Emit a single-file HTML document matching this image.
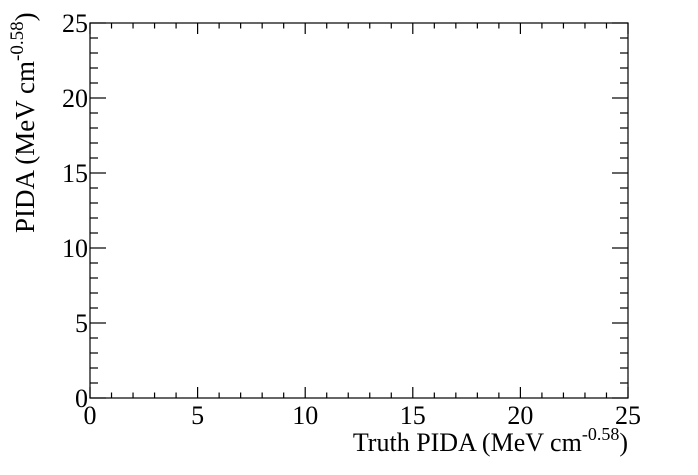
<!DOCTYPE html>
<html><head><meta charset="utf-8"><style>body{margin:0;background:#fff}svg{display:block}text{font-family:"Liberation Serif",serif;fill:#000}</style></head>
<body>
<svg id="c" width="698" height="475" xmlns="http://www.w3.org/2000/svg">
<rect x="90" y="23" width="538" height="375" fill="none" stroke="#000" stroke-width="1.2"/>
<g id="ticks"></g>
<text x="628" y="451" font-size="26" text-anchor="end">Truth PIDA (MeV cm<tspan dy="-11" font-size="18">-0.58</tspan><tspan dy="11">)</tspan></text>
<text transform="translate(34,233) rotate(-90)" font-size="27">PIDA (MeV cm<tspan dy="-11" font-size="19">-0.58</tspan><tspan dy="11">)</tspan></text>
</svg>
<script>
const xTicks=[0,5,10,15,20,25];
const yTicks=[0,5,10,15,20,25];
const xMin=0,xMax=25,yMin=0,yMax=25;
const L=90,R=628,T=23,B=398;
const sx=v=>L+(v-xMin)/(xMax-xMin)*(R-L);
const sy=v=>B-(v-yMin)/(yMax-yMin)*(B-T);
const g=document.getElementById('ticks');
const NS='http://www.w3.org/2000/svg';
function line(x1,y1,x2,y2){const l=document.createElementNS(NS,'line');l.setAttribute('x1',x1);l.setAttribute('y1',y1);l.setAttribute('x2',x2);l.setAttribute('y2',y2);l.setAttribute('stroke','#000');l.setAttribute('stroke-width','1.2');


g.appendChild(l);}
function txt(x,y,s,anchor,name){const t=document.createElementNS(NS,'text');t.setAttribute('x',x);t.setAttribute('y',y);t.setAttribute('font-size','26');t.setAttribute('text-anchor',anchor);t.textContent=s;


g.appendChild(t);}
for(let v=xMin;v<=xMax;v++){const x=sx(v);const maj=v%5===0;const len=maj?11:5.5;line(x,B,x,B-len);line(x,T,x,T+len);}
for(let v=yMin;v<=yMax;v++){const y=sy(v);const maj=v%5===0;const len=maj?16:8;line(L,y,L+len,y);line(R,y,R-len,y);}
xTicks.forEach(v=>txt(sx(v),424,String(v),'middle','x-tick-label'));
yTicks.forEach(v=>txt(L-2,sy(v)+9,String(v),'end','y-tick-label'));
</script>
</body></html>
